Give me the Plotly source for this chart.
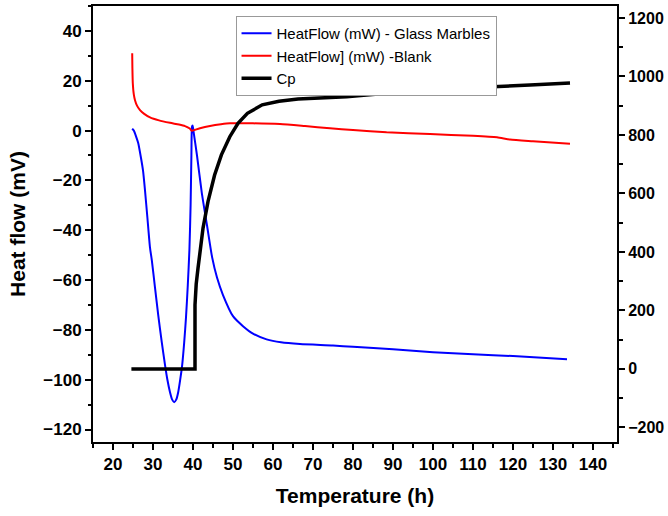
import plotly.graph_objects as go

# Glass marbles heat flow
blue_x = [24.8, 25.2, 25.8, 26.3, 27.0, 27.5, 28.0, 28.6, 29.25, 29.7, 30.5, 31.3, 32.2, 33.0, 33.6,
          34.25, 34.8, 35.3, 35.8, 36.3, 36.8, 37.3, 37.8, 38.25, 38.7, 39.1, 39.4, 39.6, 39.75, 39.9,
          40.1, 41.0, 42.2, 43.5, 44.8, 46.0, 47.5, 50.0, 52.5, 55.0, 58.4, 62.0, 66.75, 75.0, 80.0,
          90.0, 100.0, 110.0, 120.0, 133.5]
blue_y = [0.8, 0.0, -2.5, -5.0, -11.0, -16.0, -24.0, -35.0, -47.0, -52.0, -63.0, -74.0, -85.0, -94.0, -100.0,
          -105.0, -108.0, -109.0, -108.0, -105.0, -100.0, -94.0, -85.0, -75.0, -62.0, -48.0, -30.0, -10.0, 1.5, 2.0,
          0.0, -10.0, -25.0, -38.0, -51.0, -59.0, -66.0, -74.5, -78.5, -81.5, -83.8, -85.0, -85.7, -86.3, -86.8,
          -87.8, -89.0, -89.8, -90.5, -91.8]

# Blank heat flow
red_x = [24.8, 24.85, 24.95, 25.2, 25.5, 26.0, 26.75, 27.8, 29.25, 31.5, 34.25, 36.5, 38.0, 39.2, 39.7,
         40.5, 41.75, 44.25, 47.0, 49.25, 55.0, 61.75, 68.0, 74.25, 80.0, 88.4, 99.25, 110.0, 116.0,
         119.25, 125.0, 134.25]
red_y = [31.0, 25.0, 19.0, 14.5, 12.2, 10.0, 8.2, 6.7, 5.3, 4.1, 3.1, 2.4, 1.8, 0.8, -0.1,
         0.3, 0.9, 1.8, 2.5, 2.9, 2.9, 2.6, 1.8, 0.9, 0.2, -0.7, -1.4, -2.1, -2.7,
         -3.6, -4.3, -5.3]

# Cp (right axis)
cp_x = [24.6, 40.5, 40.5, 40.8, 41.25, 41.8, 42.5, 43.75, 45.4, 47.1, 49.2, 51.25, 53.6, 57.3, 61.5,
        66.25, 70.1, 78.4, 88.4, 100.0, 107.6, 115.0, 124.25, 134.25]
cp_y = [0, 0, 219, 290, 344, 410, 481, 572, 663, 732, 794, 840, 874, 903, 915,
        923, 925, 931, 943, 953, 960, 965, 971, 978]

names = ["HeatFlow (mW) - Glass Marbles", "HeatFlow] (mW) -Blank", "Cp"]

FONT = "Liberation Sans, Arial, sans-serif"

fig = go.Figure()
fig.add_trace(go.Scatter(x=blue_x, y=blue_y, mode="lines", name=names[0],
                         line=dict(color="#0000ff", width=2, shape="spline", smoothing=0.6)))
fig.add_trace(go.Scatter(x=red_x, y=red_y, mode="lines", name=names[1],
                         line=dict(color="#ff0000", width=2, shape="spline", smoothing=0.6)))
fig.add_trace(go.Scatter(x=cp_x, y=cp_y, mode="lines", name=names[2], yaxis="y2",
                         line=dict(color="#000000", width=3.5)))

tickfont = dict(family=FONT, size=17, color="black", weight="bold")
titlefont = dict(family=FONT, size=21, color="black", weight="bold")
axis_common = dict(showgrid=False, zeroline=False, showline=True, linecolor="black", linewidth=2,
                   ticks="outside", ticklen=6, tickwidth=2, tickcolor="black",
                   automargin=False)

fig.update_layout(
    width=668, height=516,
    margin=dict(l=93, r=51, t=6, b=74),
    plot_bgcolor="white", paper_bgcolor="white",
    showlegend=True,
    legend=dict(x=0.272, y=0.977, xanchor="left", yanchor="top",
                bgcolor="white", bordercolor="#999999", borderwidth=1,
                font=dict(family=FONT, size=15, color="black"),
                tracegroupgap=0, itemwidth=30),
    xaxis=dict(range=[15, 146], tickmode="linear", tick0=0, dtick=10, mirror=True,
               tickfont=tickfont,
               title=dict(text="Temperature (h)", font=titlefont, standoff=15),
               minor=dict(ticks="outside", ticklen=3.5, tickwidth=2, tickcolor="black", dtick=5, tick0=0),
               **axis_common),
    yaxis=dict(range=[-125, 50], tickmode="linear", tick0=0, dtick=20,
               tickfont=tickfont,
               title=dict(text="Heat flow (mV)", font=titlefont, standoff=12),
               minor=dict(ticks="outside", ticklen=3.5, tickwidth=2, tickcolor="black", dtick=10, tick0=0),
               **axis_common),
    yaxis2=dict(range=[-250, 1241], tickmode="linear", tick0=0, dtick=200, overlaying="y", side="right",
                tickfont=dict(family=FONT, size=16, color="black", weight="bold"),
                minor=dict(ticks="outside", ticklen=3.5, tickwidth=2, tickcolor="black", dtick=100, tick0=0),
                **axis_common),
)

fig.write_html("out.html")
